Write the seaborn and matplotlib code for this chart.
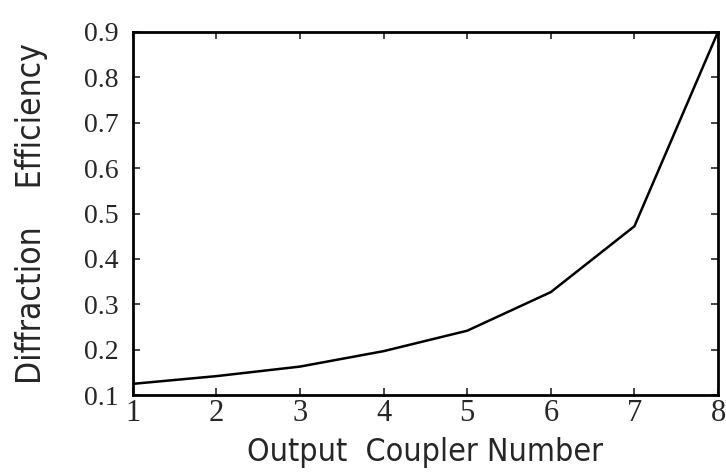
import matplotlib
matplotlib.use("Agg")
import matplotlib.pyplot as plt
import seaborn as sns
import pandas as pd

# coupler index vs. diffraction efficiency
couplers = [1, 2, 3, 4, 5, 6, 7, 8]
efficiency = [0.125, 0.142, 0.163, 0.197, 0.242, 0.327, 0.472, 0.9]
xticks = [1, 2, 3, 4, 5, 6, 7, 8]
yticks = [0.1, 0.2, 0.3, 0.4, 0.5, 0.6, 0.7, 0.8, 0.9]

df = pd.DataFrame({"coupler": couplers, "eff": efficiency})

sns.set_style("ticks")
fig = plt.figure(figsize=(7.26, 4.75), dpi=100)
ax = fig.add_axes([0.183, 0.168, 0.806, 0.765])

sns.lineplot(data=df, x="coupler", y="eff", color="black", linewidth=1.8, ax=ax)

ax.set_xlim(1, 8)
ax.set_ylim(0.1, 0.9)
ax.set_xticks(xticks)
ax.set_yticks(yticks)
ax.set_xticklabels([str(v) for v in xticks], family="Liberation Serif", fontsize=22)
ax.set_yticklabels([f"{v:.1f}" for v in yticks], family="Liberation Serif", fontsize=20)
ax.tick_params(axis="both", direction="in", length=5, width=1.2, top=True, right=True)
ax.tick_params(axis="y", pad=10)
ax.tick_params(axis="x", pad=3)
for s in ax.spines.values():
    s.set_linewidth(2)
    s.set_color("black")

ax.set_xlabel("Output  Coupler Number", family="DejaVu Sans", fontstretch="condensed",
              fontsize=23, labelpad=6)
ax.set_ylabel("Diffraction    Efficiency", family="DejaVu Sans", fontstretch="condensed",
              fontsize=24, labelpad=26)

fig.savefig("out.png", dpi=100)
